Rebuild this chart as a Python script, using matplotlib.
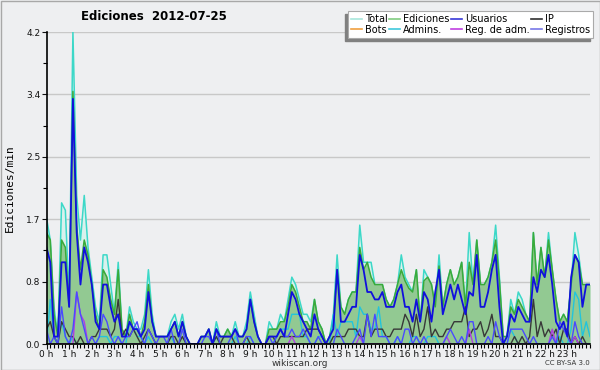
import numpy as np
import matplotlib
matplotlib.use('Agg')
import matplotlib.pyplot as plt
from matplotlib.patches import Rectangle

# 10-minute bins, values in edits/min (one row per hour)
total = [1.7, 1.4, 0.5, 0.1, 1.9, 1.8,
         0.6, 4.2, 2.0, 1.4, 2.0, 1.3,
         0.9, 0.5, 0.3, 1.2, 1.2, 0.8,
         0.4, 1.1, 0.2, 0.1, 0.5, 0.3,
         0.2, 0.2, 0.4, 1.0, 0.4, 0.1,
         0.1, 0.1, 0.1, 0.3, 0.4, 0.2,
         0.4, 0.1, 0.0, 0.0, 0.0, 0.1,
         0.1, 0.2, 0.0, 0.3, 0.1, 0.1,
         0.2, 0.1, 0.3, 0.1, 0.1, 0.3,
         0.7, 0.4, 0.1, 0.0, 0.0, 0.3,
         0.2, 0.2, 0.4, 0.3, 0.6, 0.9,
         0.8, 0.6, 0.4, 0.4, 0.3, 0.6,
         0.3, 0.2, 0.0, 0.1, 0.4, 1.2,
         0.5, 0.4, 0.6, 0.7, 0.7, 1.6,
         1.1, 1.1, 1.1, 0.8, 0.8, 0.8,
         0.6, 0.5, 0.6, 0.8, 1.2, 0.9,
         0.8, 0.7, 1.0, 0.3, 1.0, 0.9,
         0.8, 0.5, 1.2, 0.5, 0.8, 1.0,
         0.8, 0.9, 1.1, 0.5, 1.5, 0.8,
         1.4, 0.8, 0.8, 0.9, 1.1, 1.6,
         0.9, 0.1, 0.1, 0.6, 0.4, 0.7,
         0.6, 0.4, 0.3, 1.5, 0.8, 1.3,
         0.9, 1.5, 1.0, 0.6, 0.3, 0.4,
         0.3, 0.8, 1.5, 1.2, 0.8, 0.8,
         0.8]
edits = [1.5, 1.4, 0.4, 0.1, 1.4, 1.3,
         0.5, 3.4, 1.6, 1.0, 1.4, 1.2,
         0.8, 0.4, 0.2, 1.0, 0.9, 0.6,
         0.4, 1.0, 0.2, 0.1, 0.4, 0.2,
         0.2, 0.1, 0.3, 0.8, 0.3, 0.1,
         0.1, 0.1, 0.1, 0.2, 0.3, 0.1,
         0.3, 0.1, 0.0, 0.0, 0.0, 0.1,
         0.1, 0.2, 0.0, 0.2, 0.1, 0.1,
         0.2, 0.1, 0.2, 0.1, 0.1, 0.2,
         0.6, 0.3, 0.1, 0.0, 0.0, 0.2,
         0.2, 0.2, 0.3, 0.3, 0.5, 0.8,
         0.7, 0.5, 0.3, 0.3, 0.2, 0.6,
         0.3, 0.2, 0.0, 0.1, 0.3, 1.0,
         0.5, 0.4, 0.6, 0.7, 0.7, 1.3,
         1.0, 1.1, 0.9, 0.8, 0.8, 0.8,
         0.6, 0.5, 0.6, 0.8, 1.0, 0.85,
         0.75, 0.7, 1.0, 0.3, 0.85, 0.9,
         0.8, 0.5, 1.05, 0.5, 0.8, 1.0,
         0.8, 0.9, 1.1, 0.5, 1.1, 0.8,
         1.4, 0.8, 0.8, 0.9, 1.1, 1.4,
         0.85, 0.1, 0.1, 0.5, 0.4, 0.6,
         0.5, 0.4, 0.3, 1.5, 0.8, 1.3,
         0.9, 1.4, 1.0, 0.6, 0.3, 0.4,
         0.3, 0.8, 1.2, 1.1, 0.8, 0.8,
         0.8]
users = [1.3, 1.1, 0.1, 0.1, 1.1, 1.1,
         0.5, 3.3, 1.5, 0.8, 1.3, 1.1,
         0.8, 0.3, 0.2, 0.8, 0.8, 0.5,
         0.3, 0.4, 0.1, 0.1, 0.3, 0.2,
         0.2, 0.1, 0.2, 0.7, 0.3, 0.1,
         0.1, 0.1, 0.1, 0.2, 0.3, 0.1,
         0.3, 0.1, 0.0, 0.0, 0.0, 0.1,
         0.1, 0.2, 0.0, 0.2, 0.1, 0.1,
         0.1, 0.1, 0.2, 0.1, 0.1, 0.2,
         0.6, 0.3, 0.1, 0.0, 0.0, 0.1,
         0.1, 0.1, 0.2, 0.1, 0.4, 0.7,
         0.6, 0.4, 0.3, 0.2, 0.1, 0.4,
         0.2, 0.1, 0.0, 0.1, 0.2, 1.0,
         0.3, 0.3, 0.4, 0.5, 0.5, 1.2,
         1.0, 0.7, 0.7, 0.6, 0.6, 0.7,
         0.5, 0.5, 0.5, 0.7, 0.8, 0.5,
         0.5, 0.3, 0.6, 0.3, 0.7, 0.6,
         0.3, 0.7, 1.0, 0.4, 0.6, 0.8,
         0.6, 0.8, 0.6, 0.4, 0.7, 0.65,
         1.2, 0.5, 0.5, 0.7, 1.0, 1.2,
         0.5, 0.0, 0.1, 0.4, 0.3, 0.5,
         0.4, 0.3, 0.3, 0.9, 0.7, 1.0,
         0.9, 1.2, 0.8, 0.3, 0.2, 0.3,
         0.1, 0.9, 1.2, 1.1, 0.5, 0.8,
         0.8]
ip = [0.2, 0.3, 0.1, 0.0, 0.3, 0.2,
      0.1, 0.1, 0.0, 0.1, 0.0, 0.0,
      0.1, 0.1, 0.2, 0.2, 0.2, 0.1,
      0.2, 0.6, 0.1, 0.2, 0.1, 0.2,
      0.1, 0.0, 0.1, 0.2, 0.1, 0.0,
      0.0, 0.0, 0.0, 0.1, 0.1, 0.0,
      0.1, 0.0, 0.0, 0.0, 0.0, 0.0,
      0.0, 0.0, 0.0, 0.1, 0.0, 0.1,
      0.1, 0.1, 0.0, 0.0, 0.0, 0.1,
      0.0, 0.0, 0.0, 0.0, 0.0, 0.1,
      0.1, 0.0, 0.1, 0.1, 0.1, 0.1,
      0.1, 0.1, 0.1, 0.2, 0.2, 0.2,
      0.2, 0.1, 0.0, 0.0, 0.1, 0.1,
      0.1, 0.1, 0.2, 0.2, 0.2, 0.1,
      0.1, 0.4, 0.1, 0.2, 0.2, 0.2,
      0.1, 0.1, 0.2, 0.2, 0.2, 0.4,
      0.3, 0.1, 0.4, 0.1, 0.2, 0.5,
      0.1, 0.2, 0.1, 0.1, 0.2, 0.2,
      0.3, 0.3, 0.3, 0.5, 0.1, 0.2,
      0.2, 0.3, 0.1, 0.2, 0.4, 0.1,
      0.1, 0.0, 0.0, 0.0, 0.1, 0.0,
      0.1, 0.0, 0.1, 0.6, 0.1, 0.3,
      0.1, 0.2, 0.1, 0.2, 0.0, 0.2,
      0.2, 0.0, 0.1, 0.0, 0.1, 0.0,
      0.0]
admins = [0.0, 0.6, 0.1, 0.0, 0.3, 0.1,
          0.0, 0.1, 0.0, 0.0, 0.0, 0.0,
          0.0, 0.0, 0.1, 0.1, 0.1, 0.0,
          0.1, 0.1, 0.0, 0.0, 0.3, 0.2,
          0.1, 0.1, 0.0, 0.1, 0.0, 0.0,
          0.0, 0.0, 0.0, 0.1, 0.0, 0.0,
          0.0, 0.0, 0.0, 0.0, 0.0, 0.0,
          0.0, 0.0, 0.0, 0.1, 0.0, 0.0,
          0.0, 0.0, 0.1, 0.0, 0.0, 0.0,
          0.1, 0.0, 0.0, 0.0, 0.0, 0.0,
          0.0, 0.1, 0.2, 0.2, 0.2, 0.4,
          0.4, 0.4, 0.1, 0.1, 0.0, 0.0,
          0.1, 0.1, 0.0, 0.0, 0.4, 0.1,
          0.3, 0.3, 0.3, 0.3, 0.1, 0.5,
          0.4, 0.4, 0.2, 0.2, 0.5, 0.1,
          0.1, 0.0, 0.0, 0.1, 0.0, 0.0,
          0.0, 0.1, 0.1, 0.0, 0.0, 0.1,
          0.1, 0.1, 0.0, 0.0, 0.0, 0.0,
          0.0, 0.0, 0.0, 0.0, 0.0, 0.0,
          0.0, 0.0, 0.0, 0.0, 0.0, 0.0,
          0.0, 0.0, 0.0, 0.2, 0.1, 0.0,
          0.0, 0.0, 0.0, 0.0, 0.0, 0.0,
          0.0, 0.0, 0.0, 0.0, 0.1, 0.0,
          0.0, 0.2, 0.7, 0.6, 0.1, 0.3,
          0.1]
registros = [0.2, 0.0, 0.1, 0.0, 0.5, 0.1,
             0.0, 0.2, 0.7, 0.4, 0.2, 0.0,
             0.1, 0.0, 0.1, 0.4, 0.3, 0.1,
             0.0, 0.1, 0.0, 0.1, 0.1, 0.2,
             0.3, 0.1, 0.0, 0.2, 0.1, 0.0,
             0.1, 0.1, 0.0, 0.2, 0.0, 0.0,
             0.2, 0.0, 0.0, 0.0, 0.0, 0.0,
             0.1, 0.1, 0.0, 0.2, 0.0, 0.0,
             0.0, 0.1, 0.2, 0.0, 0.0, 0.1,
             0.1, 0.0, 0.0, 0.0, 0.0, 0.1,
             0.0, 0.1, 0.2, 0.1, 0.1, 0.2,
             0.1, 0.1, 0.2, 0.1, 0.0, 0.0,
             0.1, 0.0, 0.0, 0.0, 0.0, 0.2,
             0.1, 0.0, 0.0, 0.0, 0.1, 0.2,
             0.0, 0.4, 0.1, 0.4, 0.1, 0.1,
             0.1, 0.0, 0.0, 0.1, 0.0, 0.2,
             0.2, 0.0, 0.1, 0.0, 0.1, 0.0,
             0.0, 0.0, 0.0, 0.0, 0.1, 0.2,
             0.1, 0.0, 0.1, 0.0, 0.3, 0.3,
             0.0, 0.0, 0.0, 0.1, 0.0, 0.3,
             0.1, 0.0, 0.0, 0.2, 0.2, 0.2,
             0.2, 0.1, 0.0, 0.1, 0.0, 0.0,
             0.0, 0.0, 0.1, 0.0, 0.3, 0.2,
             0.1, 0.0, 0.3, 0.1, 0.0, 0.0,
             0.0]
reg_adm = [0.0] * 145
for i, v in [(8, 0.7), (9, 0.4), (10, 0.3), (65, 0.1), (83, 0.1),
             (106, 0.1), (112, 0.2), (134, 0.2), (140, 0.1)]:
    reg_adm[i] = v
bots = [0.0] * 145

hours = np.arange(145) / 6.0
hour_labels = ['%d h' % h for h in range(24)]
date = '2012-07-25'

bg = '#eeeff1'
fig = plt.figure(figsize=(6, 3.7), dpi=100, facecolor=bg)
ax = fig.add_axes([46.5 / 600, 26 / 370, 543.5 / 600, 312 / 370])
ax.set_facecolor(bg)

# stacked look: total area, then edits area, then the lines
ax.plot(hours, bots, color='#f0a040', lw=1, zorder=1)
ax.fill_between(hours, total, color='#d9f1ed', lw=0, zorder=2)
ax.plot(hours, total, color='#3cd8c8', lw=1.1, zorder=3)
ax.fill_between(hours, edits, color='#92c992', lw=0, zorder=4)
ax.plot(hours, edits, color='#3aaa3a', lw=1.1, zorder=5)
ax.plot(hours, admins, color='#22c4dc', lw=1, zorder=6)
ax.plot(hours, ip, color='#383838', lw=1, zorder=6)
ax.plot(hours, reg_adm, color='#b040e0', lw=1, zorder=6)
ax.plot(hours, registros, color='#4a4aff', lw=1, zorder=7)
ax.plot(hours, users, color='#1010dd', lw=1.3, zorder=8)

ax.set_xlim(0, 24)
ax.set_ylim(0, 4.2)
yt = np.linspace(0, 4.2, 6)
ax.set_yticks(yt)
ax.set_yticklabels(['%.1f' % v for v in yt])
ax.set_yticks(np.linspace(0, 4.2, 11), minor=True)
ax.set_xticks(range(24))
ax.set_xticklabels(hour_labels)
ax.set_xticks(np.arange(0, 24.01, 1 / 6.0), minor=True)
ax.tick_params(axis='both', which='major', labelsize=6.5, length=3.5, width=0.8,
               direction='out', pad=1, colors='#111111')
ax.tick_params(axis='x', which='major', pad=0.5)
ax.tick_params(axis='both', which='minor', length=3, width=0.8, direction='out')
ax.grid(axis='y', which='major', color='#c8c8c8', lw=1)
ax.set_axisbelow(True)
for s in ['top', 'right']:
    ax.spines[s].set_visible(False)
for s in ['left', 'bottom']:
    ax.spines[s].set_linewidth(1.2)
    ax.spines[s].set_zorder(10)

ax.set_ylabel('Ediciones/min', family='DejaVu Sans Mono', fontsize=8, labelpad=8)
fig.text(154 / 600, 1 - 17 / 370, 'Ediciones  ' + date, ha='center', va='center',
         fontsize=8.5, fontweight='bold')
fig.text(300 / 600, 1 - 363 / 370, 'wikiscan.org', ha='center', va='center',
         fontsize=6.5, color='#333333')
fig.text(590 / 600, 1 - 363 / 370, 'CC BY-SA 3.0', ha='right', va='center',
         fontsize=5, color='#333333')

# legend in 4 columns, filled column by column
handles = [plt.Line2D([], [], color=c, lw=1.2) for c in
           ['#a8e6dc', '#f0a040', '#80cc80', '#40c8dc',
            '#3838d8', '#c040e0', '#303030', '#7878e8']]
labels = ['Total', 'Bots', 'Ediciones', 'Admins.', 'Usuarios', 'Reg. de adm.',
          'IP', 'Registros']
leg = fig.legend(handles, labels, ncol=4, loc='upper right',
                 bbox_to_anchor=(593 / 600, 1 - 11 / 370), fontsize=7,
                 frameon=True, fancybox=False, framealpha=1, edgecolor='#aaaaaa',
                 handlelength=1.1, handletextpad=0.3, columnspacing=0.2,
                 labelspacing=0.1, borderpad=0.3, borderaxespad=0)
leg.get_frame().set_linewidth(0.8)
fig.canvas.draw()
bb = leg.get_window_extent().transformed(fig.transFigure.inverted())
fig.patches.append(Rectangle((bb.x0 - 3 / 600, bb.y0 - 3 / 370), bb.width, bb.height,
                             transform=fig.transFigure, color='#808080', zorder=0))
# thin frame around the picture
fig.patches.append(Rectangle((0.5 / 600, 0.5 / 370), 599 / 600, 369 / 370, fill=False,
                             transform=fig.transFigure, edgecolor='#a8a8a8', lw=1))

fig.savefig('out.png', dpi=100, facecolor=bg)
